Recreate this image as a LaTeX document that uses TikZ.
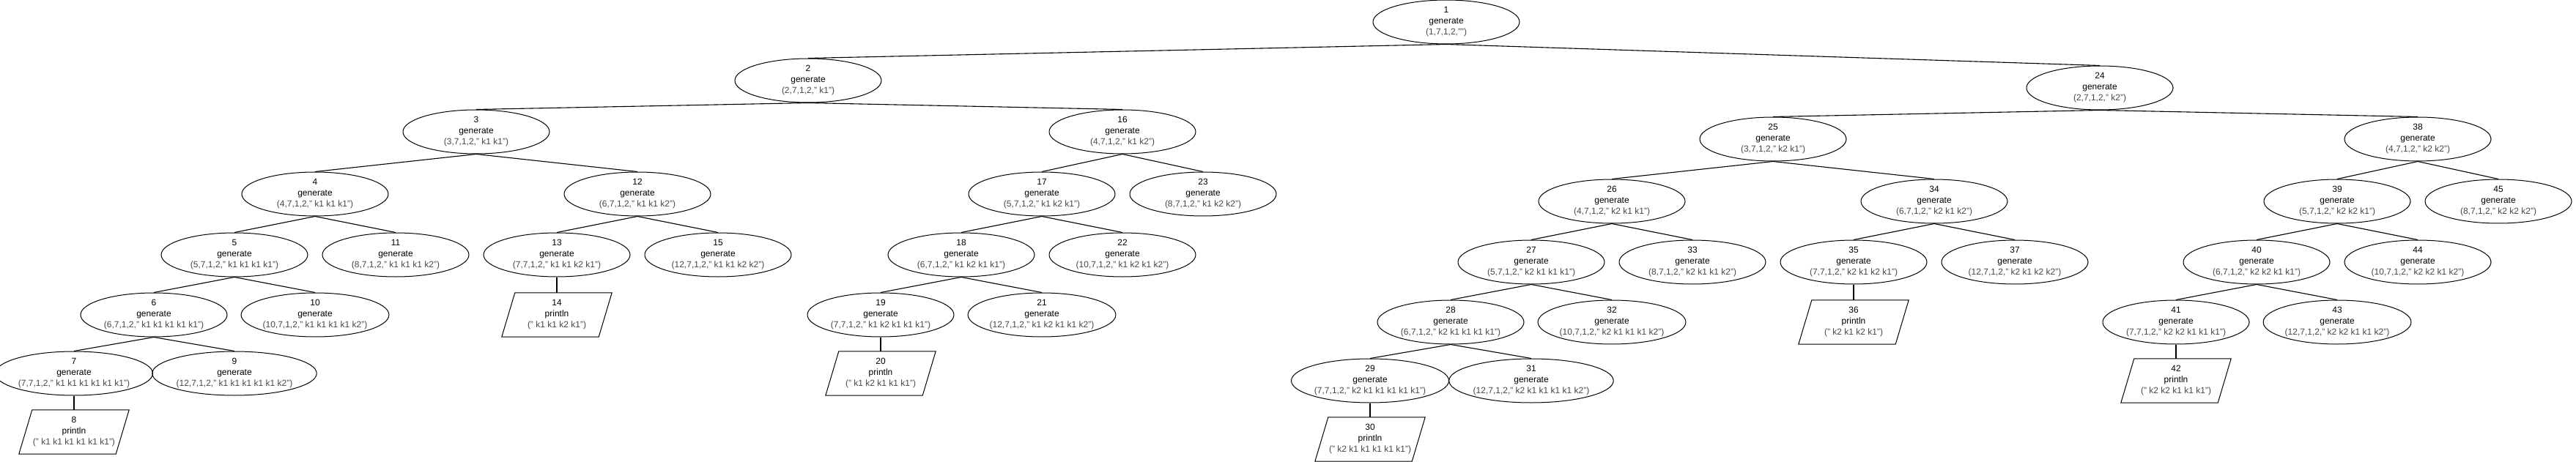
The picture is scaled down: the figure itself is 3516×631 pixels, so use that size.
\documentclass[tikz,border=0pt]{standalone}
\usepackage{fontspec}
\setmainfont{Liberation Sans}
\usetikzlibrary{shapes.geometric}
\definecolor{txtgray}{RGB}{70,70,70}
\newcommand{\gtxt}[2]{#1\\generate\\{\color{txtgray}#2}}
\newcommand{\ptxt}[2]{#1\\println\\{\color{txtgray}#2}}
\begin{document}
\begin{tikzpicture}[x=1pt,y=-1pt,
  gen/.style={ellipse,draw,line width=1pt,minimum width=200,minimum height=60,inner sep=0pt,align=center,
    font=\fontsize{12}{15}\selectfont},
  prt/.style={rectangle,minimum width=150,minimum height=60,inner sep=0pt,align=center,
    font=\fontsize{12}{15}\selectfont},
  link/.style={line width=1.1pt}]
\useasboundingbox (0,0) rectangle (3516,631);
% level y
\def\La{110}\def\Lb{180}\def\Lc{265}\def\Ld{348}\def\Le{430}\def\Lf{510}\def\Lg{590}
\def\Ra{120}\def\Rb{190}\def\Rc{275}\def\Rd{358}\def\Re{440}\def\Rf{520}\def\Rg{600}
\node[gen] (n1) at (1974,30) {\gtxt{1}{(1,7,1,2,"")}};
\node[gen] (n2) at (1103,\La) {\gtxt{2}{(2,7,1,2," k1")}};
\node[gen] (n3) at (650,\Lb) {\gtxt{3}{(3,7,1,2," k1 k1")}};
\node[gen] (n4) at (430,\Lc) {\gtxt{4}{(4,7,1,2," k1 k1 k1")}};
\node[gen] (n5) at (320,\Ld) {\gtxt{5}{(5,7,1,2," k1 k1 k1 k1")}};
\node[gen] (n6) at (210,\Le) {\gtxt{6}{(6,7,1,2," k1 k1 k1 k1 k1")}};
\node[gen] (n7) at (101,\Lf) {\gtxt{7}{(7,7,1,2," k1 k1 k1 k1 k1 k1")}};
\node[prt] (n8) at (101,\Lg) {\ptxt{8}{(" k1 k1 k1 k1 k1 k1")}};
\node[gen] (n9) at (320,\Lf) {\gtxt{9}{(12,7,1,2," k1 k1 k1 k1 k1 k2")}};
\node[gen] (n10) at (430,\Le) {\gtxt{10}{(10,7,1,2," k1 k1 k1 k1 k2")}};
\node[gen] (n11) at (540,\Ld) {\gtxt{11}{(8,7,1,2," k1 k1 k1 k2")}};
\node[gen] (n12) at (870,\Lc) {\gtxt{12}{(6,7,1,2," k1 k1 k2")}};
\node[gen] (n13) at (760,\Ld) {\gtxt{13}{(7,7,1,2," k1 k1 k2 k1")}};
\node[prt] (n14) at (760,\Le) {\ptxt{14}{(" k1 k1 k2 k1")}};
\node[gen] (n15) at (980,\Ld) {\gtxt{15}{(12,7,1,2," k1 k1 k2 k2")}};
\node[gen] (n16) at (1532,\Lb) {\gtxt{16}{(4,7,1,2," k1 k2")}};
\node[gen] (n17) at (1422,\Lc) {\gtxt{17}{(5,7,1,2," k1 k2 k1")}};
\node[gen] (n18) at (1312,\Ld) {\gtxt{18}{(6,7,1,2," k1 k2 k1 k1")}};
\node[gen] (n19) at (1202,\Le) {\gtxt{19}{(7,7,1,2," k1 k2 k1 k1 k1")}};
\node[prt] (n20) at (1202,\Lf) {\ptxt{20}{(" k1 k2 k1 k1 k1")}};
\node[gen] (n21) at (1422,\Le) {\gtxt{21}{(12,7,1,2," k1 k2 k1 k1 k2")}};
\node[gen] (n22) at (1532,\Ld) {\gtxt{22}{(10,7,1,2," k1 k2 k1 k2")}};
\node[gen] (n23) at (1642,\Lc) {\gtxt{23}{(8,7,1,2," k1 k2 k2")}};
\node[gen] (n24) at (2866,\Ra) {\gtxt{24}{(2,7,1,2," k2")}};
\node[gen] (n25) at (2420,\Rb) {\gtxt{25}{(3,7,1,2," k2 k1")}};
\node[gen] (n26) at (2200,\Rc) {\gtxt{26}{(4,7,1,2," k2 k1 k1")}};
\node[gen] (n27) at (2090,\Rd) {\gtxt{27}{(5,7,1,2," k2 k1 k1 k1")}};
\node[gen] (n28) at (1980,\Re) {\gtxt{28}{(6,7,1,2," k2 k1 k1 k1 k1")}};
\node[gen] (n29) at (1870,\Rf) {\gtxt{29}{(7,7,1,2," k2 k1 k1 k1 k1 k1")}};
\node[prt] (n30) at (1870,\Rg) {\ptxt{30}{(" k2 k1 k1 k1 k1 k1")}};
\node[gen] (n31) at (2090,\Rf) {\gtxt{31}{(12,7,1,2," k2 k1 k1 k1 k1 k2")}};
\node[gen] (n32) at (2200,\Re) {\gtxt{32}{(10,7,1,2," k2 k1 k1 k1 k2")}};
\node[gen] (n33) at (2310,\Rd) {\gtxt{33}{(8,7,1,2," k2 k1 k1 k2")}};
\node[gen] (n34) at (2640,\Rc) {\gtxt{34}{(6,7,1,2," k2 k1 k2")}};
\node[gen] (n35) at (2530,\Rd) {\gtxt{35}{(7,7,1,2," k2 k1 k2 k1")}};
\node[prt] (n36) at (2530,\Re) {\ptxt{36}{(" k2 k1 k2 k1")}};
\node[gen] (n37) at (2750,\Rd) {\gtxt{37}{(12,7,1,2," k2 k1 k2 k2")}};
\node[gen] (n38) at (3300,\Rb) {\gtxt{38}{(4,7,1,2," k2 k2")}};
\node[gen] (n39) at (3190,\Rc) {\gtxt{39}{(5,7,1,2," k2 k2 k1")}};
\node[gen] (n40) at (3080,\Rd) {\gtxt{40}{(6,7,1,2," k2 k2 k1 k1")}};
\node[gen] (n41) at (2970,\Re) {\gtxt{41}{(7,7,1,2," k2 k2 k1 k1 k1")}};
\node[prt] (n42) at (2970,\Rf) {\ptxt{42}{(" k2 k2 k1 k1 k1")}};
\node[gen] (n43) at (3190,\Re) {\gtxt{43}{(12,7,1,2," k2 k2 k1 k1 k2")}};
\node[gen] (n44) at (3300,\Rd) {\gtxt{44}{(10,7,1,2," k2 k2 k1 k2")}};
\node[gen] (n45) at (3410,\Rc) {\gtxt{45}{(8,7,1,2," k2 k2 k2")}};
% parallelogram outlines
\foreach \p in {n8,n14,n20,n30,n36,n42}{
  \draw[line width=1pt] ([xshift=18]\p.north west) -- (\p.north east) -- ([xshift=-18]\p.south east) -- (\p.south west) -- cycle;
}
% connectors
\foreach \a/\b in {n1/n2,n1/n24,n2/n3,n2/n16,n3/n4,n3/n12,n4/n5,n4/n11,n5/n6,n5/n10,n6/n7,n6/n9,n7/n8,
  n12/n13,n12/n15,n13/n14,n16/n17,n16/n23,n17/n18,n17/n22,n18/n19,n18/n21,n19/n20,
  n24/n25,n24/n38,n25/n26,n25/n34,n26/n27,n26/n33,n27/n28,n27/n32,n28/n29,n28/n31,n29/n30,
  n34/n35,n34/n37,n35/n36,n38/n39,n38/n45,n39/n40,n39/n44,n40/n41,n40/n43,n41/n42}{
  \draw[link] (\a.south) -- (\b.north);
}
\end{tikzpicture}
\end{document}
